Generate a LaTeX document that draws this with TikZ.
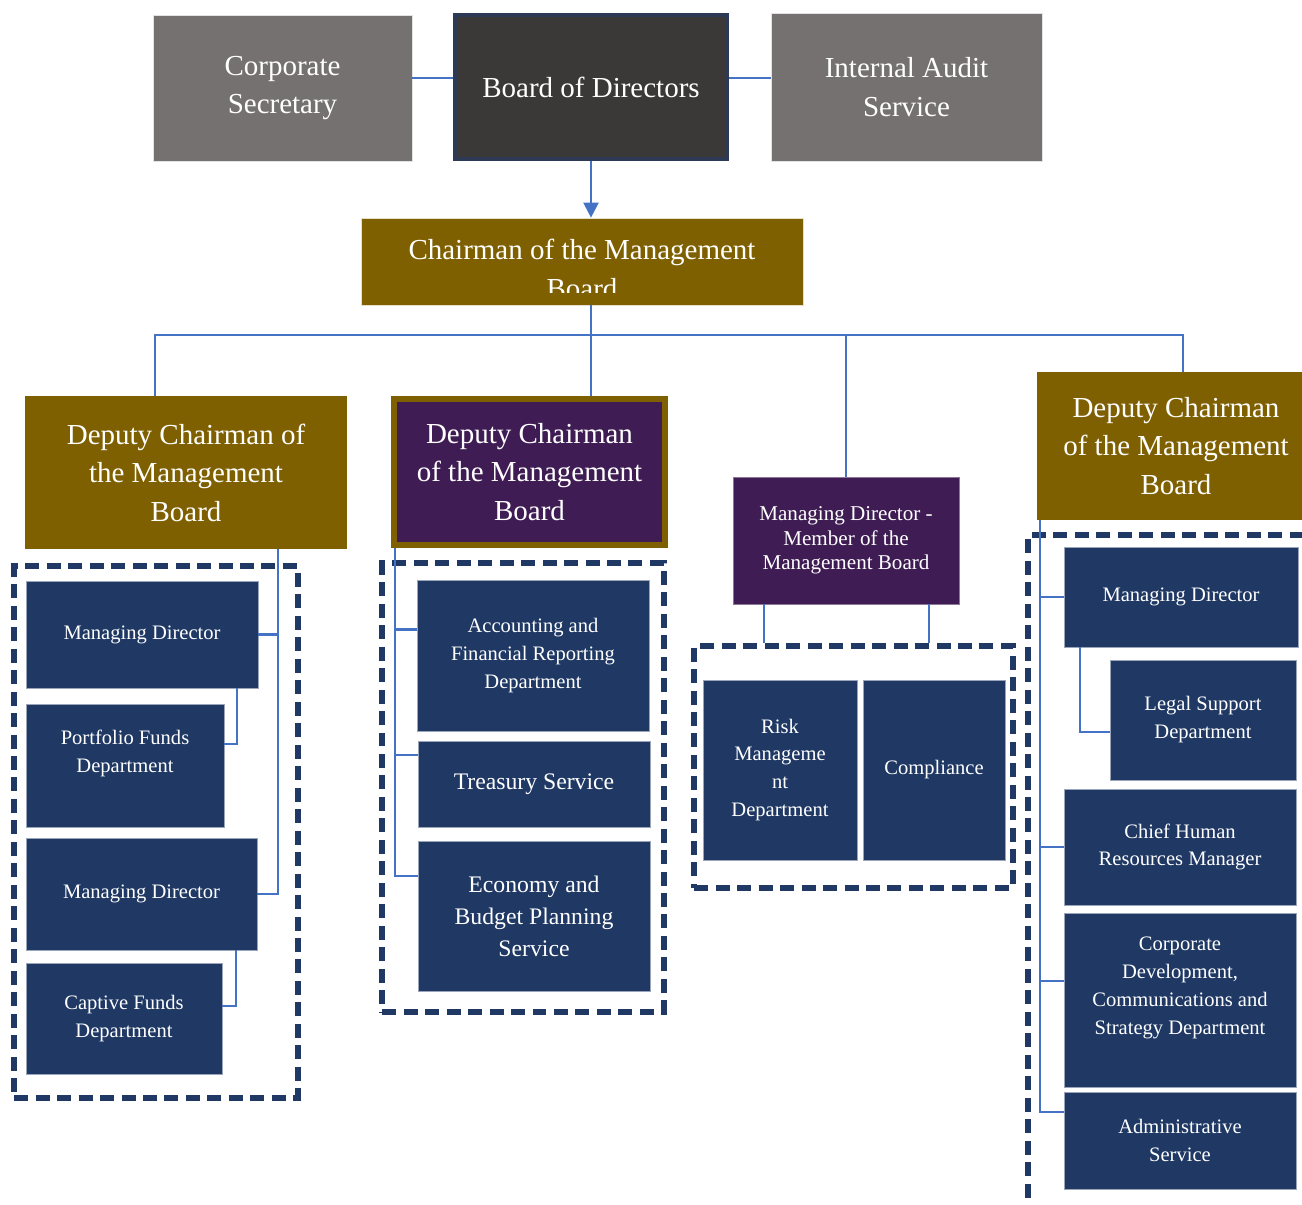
\documentclass[tikz,border=0pt]{standalone}
\usepackage{fontspec}
\setmainfont{Liberation Serif}
\definecolor{BoxGray}{HTML}{767171}
\definecolor{BoardDark}{HTML}{3B3838}
\definecolor{BoardEdge}{HTML}{2E3A55}
\definecolor{Gold}{HTML}{7F6000}
\definecolor{Plum}{HTML}{3F1D54}
\definecolor{Navy}{HTML}{1F3864}
\definecolor{LinkBlue}{HTML}{4472C4}
\usetikzlibrary{arrows.meta,positioning}

\begin{document}
\begin{tikzpicture}[x=0.02cm,y=-0.02cm,
        big/.style={text=white,align=center,inner sep=0pt,
                    font=\fontsize{16.5}{21.9}\selectfont},
        unit/.style={fill=Navy,draw=Navy!45!white,line width=0.5pt,
                     text=white,align=center,inner sep=0pt,
                     font=\fontsize{11.7}{15.9}\selectfont},
        mid/.style={unit,font=\fontsize{13.5}{18.2}\selectfont},
        group/.style={draw=Navy,line width=3.3pt,
                      dash pattern=on 0.28cm off 0.15cm,inner sep=0pt},
        link/.style={draw=LinkBlue,line width=1.25pt}]

  \useasboundingbox (0,0) rectangle (1302,1204);
  \clip (0,0) rectangle (1302,1204);

  % top row
  \node[big,fill=BoxGray,draw=white!80!BoxGray,minimum width=5.18cm,minimum height=2.92cm] (cs) at (282.5,88) {Corporate\\Secretary};
  \node[big,fill=BoardDark,draw=BoardEdge,line width=2.3pt,minimum width=5.44cm,minimum height=2.88cm] (bod) at (591,87) {Board of Directors};
  \node[big,fill=BoxGray,draw=white!80!BoxGray,minimum width=5.42cm,minimum height=2.96cm] (ias) at (906.5,87) {Internal Audit\\Service};

  \node[fill=Gold,draw=white!80!Gold,minimum width=8.84cm,minimum height=1.74cm] (chair) at (582,261.5) {};
  \begin{scope}
    \clip (361,218) rectangle (803,292);
    \node[big] (chairtxt) at (582,269) {Chairman of the Management\\Board};
  \end{scope}

  % deputies
  \node[big,fill=Gold,minimum width=6.44cm,minimum height=3.06cm] (dep1) at (186,472.5) {Deputy Chairman of\\the Management\\Board};
  \node[big,fill=Plum,draw=Gold,line width=3.4pt,minimum width=5.42cm,minimum height=2.92cm] (dep2) at (529.5,472) {Deputy Chairman\\of the Management\\Board};
  \node[big,fill=Plum,draw=Plum!60!white,line width=0.5pt,minimum width=4.52cm,minimum height=2.54cm,
        font=\fontsize{12}{14}\selectfont] (mdm) at (846,540.5) {\\[-6pt]Managing Director -\\Member of the\\Management Board};
  \node[big,fill=Gold,minimum width=5.56cm,minimum height=2.96cm] (dep3) at (1176,446) {Deputy Chairman\\of the Management\\Board};

  % dashed groups
  \node[group,minimum width=5.68cm,minimum height=10.64cm] (lgrp) at (156,832) {};
  \node[group,minimum width=5.64cm,minimum height=8.98cm] (mgrp) at (523,787.5) {};
  \node[group,minimum width=6.38cm,minimum height=4.84cm] (rmgrp) at (853.5,767) {};
  \node[group,minimum width=6.24cm,minimum height=14.1cm] (rgrp) at (1184,887.5) {};

  % left column
  \node[unit,minimum width=4.64cm,minimum height=2.14cm] (lmd1) at (142,634.5) {Managing Director};
  \node[unit,minimum width=3.96cm,minimum height=2.46cm] (pfd) at (125,765.5) {Portfolio Funds\\Department\\\mbox{}};
  \node[unit,minimum width=4.62cm,minimum height=2.24cm] (lmd2) at (141.5,894) {Managing Director};
  \node[unit,minimum width=3.92cm,minimum height=2.22cm] (cfd) at (124,1018.5) {Captive Funds\\Department};

  % middle column
  \node[unit,minimum width=4.64cm,minimum height=3.02cm] (acc) at (533,655.5) {Accounting and\\Financial Reporting\\Department};
  \node[mid,minimum width=4.64cm,minimum height=1.72cm] (treas) at (534,784) {Treasury Service};
  \node[mid,minimum width=4.64cm,minimum height=3.0cm] (econ) at (534,916) {Economy and\\Budget Planning\\Service};

  % risk and compliance
  \node[unit,minimum width=3.08cm,minimum height=3.6cm] (risk) at (780,770) {Risk\\Manageme\\nt\\Department};
  \node[unit,minimum width=2.84cm,minimum height=3.6cm] (comp) at (934,770) {Compliance};

  % right column
  \node[unit,minimum width=4.68cm,minimum height=2.0cm] (rmd) at (1181,597) {Managing Director};
  \node[unit,minimum width=3.72cm,minimum height=2.4cm] (legal) at (1203,720) {Legal Support\\Department};
  \node[unit,minimum width=4.64cm,minimum height=2.32cm] (hr) at (1180,847) {Chief Human\\Resources Manager};
  \node[unit,minimum width=4.64cm,minimum height=3.48cm] (cdev) at (1180,1000) {Corporate\\Development,\\Communications and\\Strategy Department\\\mbox{}};
  \node[unit,minimum width=4.64cm,minimum height=1.94cm] (admin) at (1180,1140.5) {Administrative\\Service};

  % connectors
  \draw[link] ([yshift=0.2cm]cs.east) -- ([yshift=0.2cm]cs.east -| bod.west);
  \draw[link] ([yshift=0.18cm]bod.east) -- ([yshift=0.18cm]bod.east -| ias.west);
  \draw[link,-{Triangle[length=0.3cm,width=0.3cm]}] (bod.south) -- (bod.south |- chair.north);

  \coordinate (bus) at (591,335);
  \draw[link] (chair.south -| bus) -- (bus |- dep2.north);
  \draw[link] ([xshift=-0.62cm]dep1.north) |- ([xshift=0.14cm]dep3.north |- bus) -- ([xshift=0.14cm]dep3.north);
  \draw[link] (mdm.north |- bus) -- (mdm.north);

  \draw[link] ([xshift=1.84cm]dep1.south) coordinate (ltop) |- (lmd2.east);
  \draw[link] (lmd1.east) -- (lmd1.east -| ltop);
  \draw[link] ([xshift=1.9cm]lmd1.south) |- ([yshift=0.43cm]pfd.east);
  \draw[link] ([xshift=1.89cm]lmd2.south) |- ([yshift=0.25cm]cfd.east);

  \draw[link] ([xshift=-2.69cm]dep2.south) coordinate (mtop) |- ([yshift=0.8cm]econ.west);
  \draw[link] ([yshift=0.52cm]acc.west) -- ([yshift=0.52cm]acc.west -| mtop);
  \draw[link] ([yshift=0.58cm]treas.west) -- ([yshift=0.58cm]treas.west -| mtop);

  \draw[link] ([xshift=-1.64cm]mdm.south) coordinate (ma) -- (ma |- rmgrp.north);
  \draw[link] ([xshift=1.66cm]mdm.south) coordinate (mb) -- (mb |- rmgrp.north);

  \draw[link] ([xshift=-2.72cm]dep3.south) coordinate (rtop) |- ([yshift=0.57cm]admin.west);
  \draw[link] (rmd.west) -- (rmd.west -| rtop);
  \draw[link] (hr.west) -- (hr.west -| rtop);
  \draw[link] ([yshift=0.38cm]cdev.west) -- ([yshift=0.38cm]cdev.west -| rtop);
  \draw[link] ([xshift=-2.02cm]rmd.south) |- ([yshift=-0.24cm]legal.west);
\end{tikzpicture}
\end{document}
